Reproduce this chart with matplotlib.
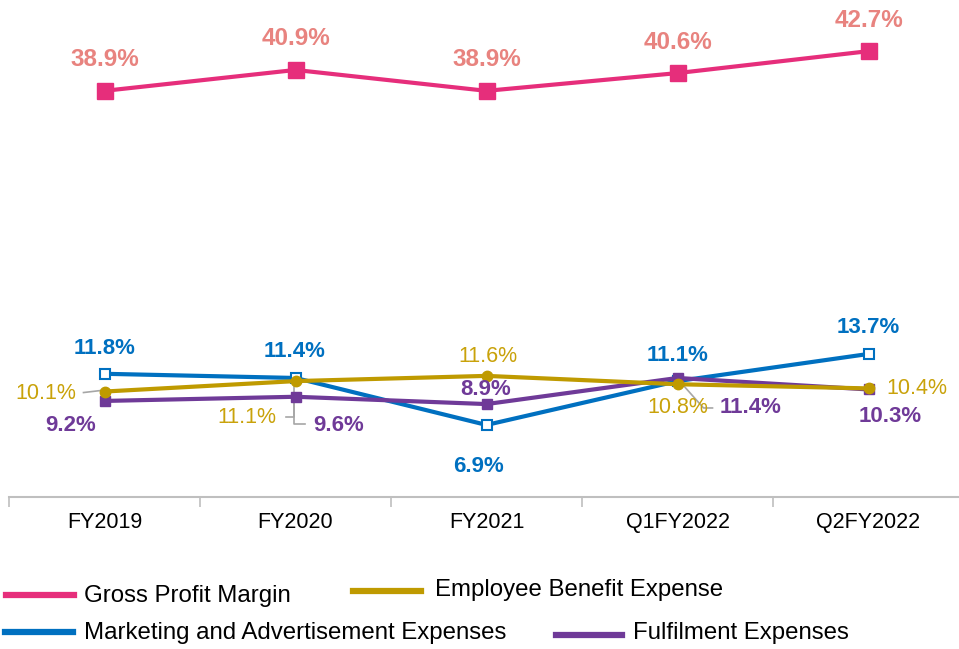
import matplotlib
matplotlib.use('Agg')
from matplotlib import pyplot as plt
from matplotlib.lines import Line2D

plt.rcParams['font.family'] = ['Liberation Sans', 'DejaVu Sans']

periods = ['FY2019', 'FY2020', 'FY2021', 'Q1FY2022', 'Q2FY2022']
gross_margin = [38.9, 40.9, 38.9, 40.6, 42.7]
marketing = [11.8, 11.4, 6.9, 11.1, 13.7]
employee = [10.1, 11.1, 11.6, 10.8, 10.4]
fulfilment = [9.2, 9.6, 8.9, 11.4, 10.3]

c_gross, c_gross_lbl = '#E62E7B', '#E8837F'
c_mkt = '#0070C0'
c_emp, c_emp_lbl = '#BF9A00', '#C9A20A'
c_ful = '#6F3A98'
c_lead = '#A6A6A6'

fig = plt.figure(figsize=(9.59, 6.49), dpi=100)
ax = fig.add_axes([9 / 959, 152 / 649, 955 / 959, 497 / 649])
x = list(range(len(periods)))
ax.set_xlim(-0.5, 4.5)
ax.set_ylim(0, 47.6)

ax.plot(x, gross_margin, color=c_gross, lw=3, marker='s', ms=11, zorder=4)
ax.plot(x, marketing, color=c_mkt, lw=3, marker='s', ms=6.5, mfc='white',
        mec=c_mkt, mew=1.5, zorder=2)
ax.plot(x, fulfilment, color=c_ful, lw=3, marker='s', ms=7, zorder=3)
ax.plot(x, employee, color=c_emp, lw=3, marker='o', ms=7.5, zorder=3.5)


def px_to_data(xi, yi, offs):
    # convert pixel offsets around a data point into data coords
    base = ax.transData.transform((xi, yi))
    inv = ax.transData.inverted()
    pts = [inv.transform((base[0] + dx, base[1] + dy)) for dx, dy in offs]
    return [p[0] for p in pts], [p[1] for p in pts]


def labels(vals, offsets, color, bold=True, size=16):
    for i, (v, (dx, dy)) in enumerate(zip(vals, offsets)):
        ax.annotate(f'{v:.1f}%', (i, v), xytext=(dx, dy),
                    textcoords='offset pixels', ha='center', va='center',
                    color=color, fontsize=size,
                    fontweight='bold' if bold else 'normal', zorder=6)


labels(gross_margin, [(0, 31)] * 5, c_gross_lbl, size=17.5)
labels(marketing, [(0, 25), (-1, 26), (-8, -42), (0, 26), (0, 26)], c_mkt)
labels(employee, [(-59, -2), (-49, -36), (1, 19), (0, -23), (48, 0)],
       c_emp_lbl, bold=False, size=15.5)
labels(fulfilment, [(-34, -25), (43, -29), (-1, 15), (73, -30), (22, -27)],
       c_ful)

# leader lines
leaders = [
    (0, employee[0], [(-4, 1), (-21, -1)]),
    (1, employee[1], [(-2, 0), (-2, -36), (-10, -36)]),
    (1, fulfilment[1], [(-2, 0), (-2, -27), (9, -27)]),
    (3, fulfilment[3], [(1, -2), (26, -30), (35, -30)]),
]
for xi, yi, offs in leaders:
    lx, ly = px_to_data(xi, yi, offs)
    ax.plot(lx, ly, color=c_lead, lw=1.2, zorder=1.5)

for s in ['top', 'right', 'left']:
    ax.spines[s].set_visible(False)
ax.spines['bottom'].set_color('#BFBFBF')
ax.spines['bottom'].set_linewidth(1.5)
ax.set_yticks([])
ax.set_xticks(x)
ax.set_xticklabels(periods, fontsize=15.5)
ax.tick_params(axis='x', which='major', length=0, pad=11)
ax.set_xticks([i - 0.5 for i in range(len(periods) + 1)], minor=True)
ax.tick_params(axis='x', which='minor', length=7, width=1.2,
               color='#BFBFBF', direction='out')

# legend
legend_items = [
    ('Gross Profit Margin', c_gross, 6, 74, 595, 84, 596),
    ('Employee Benefit Expense', c_emp, 353, 421, 591, 435, 590),
    ('Marketing and Advertisement Expenses', c_mkt, 5, 73, 632, 84, 633),
    ('Fulfilment Expenses', c_ful, 556, 622, 635, 633, 633),
]
for name, col, x0, x1, ly, tx, ty in legend_items:
    fig.add_artist(Line2D([x0 / 959, x1 / 959], [1 - ly / 649, 1 - ly / 649],
                          color=col, lw=4.5, transform=fig.transFigure))
    fig.text(tx / 959, 1 - ty / 649, name, fontsize=17.3, va='center', ha='left')

fig.savefig('out.png', dpi=100)
